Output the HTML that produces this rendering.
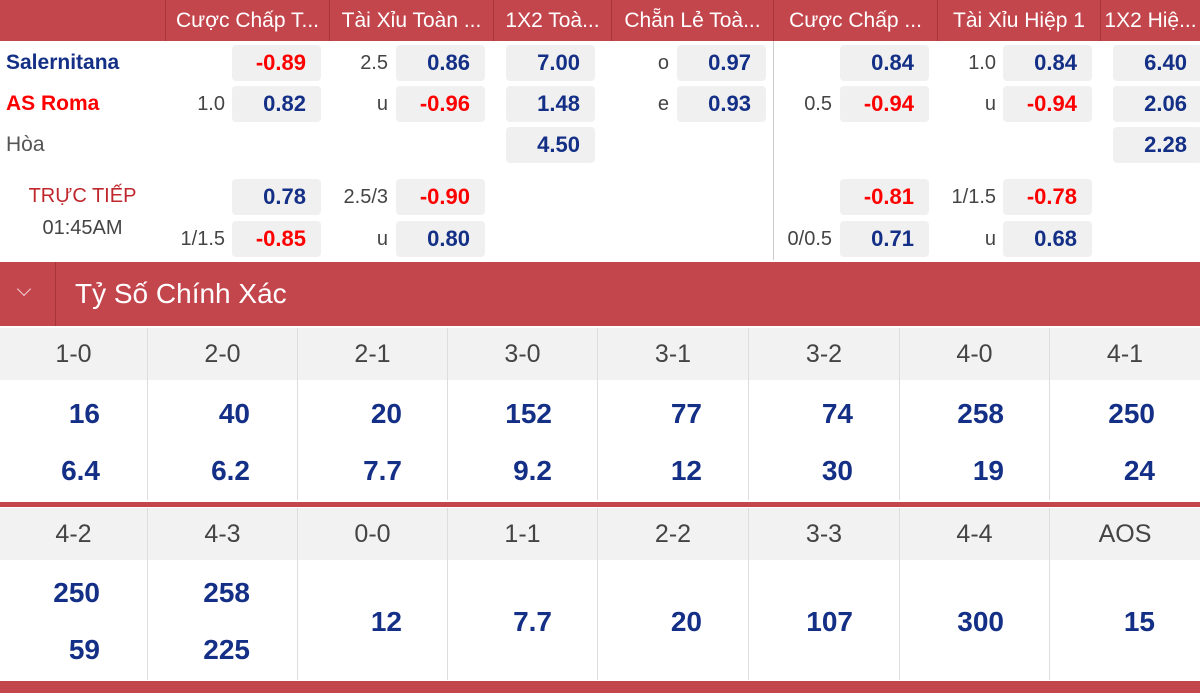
<!DOCTYPE html>
<html><head><meta charset="utf-8"><style>
*{margin:0;padding:0;box-sizing:border-box}
body{width:1200px;height:693px;overflow:hidden;background:#fff;font-family:"Liberation Sans","DejaVu Sans",sans-serif;position:relative}
.a{position:absolute}
.hd{position:absolute;top:0;left:0;width:1200px;height:41px;background:#c4464d}
.hc{position:absolute;top:0;height:41px;color:#fff;font-size:21px;line-height:41px;text-align:center;border-left:1px solid #a8343b;white-space:nowrap;overflow:hidden}
.b{position:absolute;width:89px;height:36px;background:#f0f0f0;border-radius:4px;font-weight:bold;font-size:22px;line-height:36px;text-align:right;padding-right:15px;color:#142f86}
.r{color:#f00}
.l{position:absolute;font-size:20px;color:#444;line-height:36px;text-align:right}
.team{position:absolute;left:6px;font-size:21px;font-weight:bold;line-height:36px}
.gh{position:absolute;height:52px;background:#f2f2f2;color:#444;font-size:25px;line-height:52px;text-align:center;border-right:1px solid #ddd}
.gv{position:absolute;font-weight:bold;font-size:28px;color:#142f86;text-align:right;width:104px;line-height:30px}
.vs{position:absolute;width:1px;background:#ddd}
</style></head><body>
<div class="hd"></div>
<div class="hc" style="left:165px;width:164px">Cược Chấp T...</div>
<div class="hc" style="left:329px;width:164px">Tài Xỉu Toàn ...</div>
<div class="hc" style="left:493px;width:118px">1X2 Toà...</div>
<div class="hc" style="left:611px;width:162px">Chẵn Lẻ Toà...</div>
<div class="hc" style="left:773px;width:164px">Cược Chấp ...</div>
<div class="hc" style="left:937px;width:163px">Tài Xỉu Hiệp 1</div>
<div class="hc" style="left:1100px;width:100px">1X2 Hiệ...</div>

<div class="team" style="top:45px;color:#142f86">Salernitana</div>
<div class="team" style="top:86px;color:#f00">AS Roma</div>
<div class="team" style="top:127px;font-weight:normal;color:#555">Hòa</div>
<div class="a" style="left:0;width:165px;top:185px;text-align:center;font-size:20px;color:#c0272d">TRỰC TIẾP</div>
<div class="a" style="left:0;width:165px;top:217px;text-align:center;font-size:20px;color:#444">01:45AM</div>

<div class="vs" style="left:773px;top:41px;height:219px;background:#ccc"></div>

<div class="b r" style="left:232px;top:45px">-0.89</div>
<div class="l" style="left:170px;width:55px;top:86px">1.0</div>
<div class="b" style="left:232px;top:86px">0.82</div>
<div class="b" style="left:232px;top:179px">0.78</div>
<div class="l" style="left:160px;width:65px;top:221px">1/1.5</div>
<div class="b r" style="left:232px;top:221px">-0.85</div>
<div class="l" style="left:330px;width:58px;top:45px">2.5</div>
<div class="b" style="left:396px;top:45px">0.86</div>
<div class="l" style="left:330px;width:58px;top:86px">u</div>
<div class="b r" style="left:396px;top:86px">-0.96</div>
<div class="l" style="left:330px;width:58px;top:179px">2.5/3</div>
<div class="b r" style="left:396px;top:179px">-0.90</div>
<div class="l" style="left:330px;width:58px;top:221px">u</div>
<div class="b" style="left:396px;top:221px">0.80</div>
<div class="b" style="left:506px;top:45px">7.00</div>
<div class="b" style="left:506px;top:86px">1.48</div>
<div class="b" style="left:506px;top:127px">4.50</div>
<div class="l" style="left:612px;width:57px;top:45px">o</div>
<div class="b" style="left:677px;top:45px">0.97</div>
<div class="l" style="left:612px;width:57px;top:86px">e</div>
<div class="b" style="left:677px;top:86px">0.93</div>
<div class="b" style="left:840px;top:45px">0.84</div>
<div class="l" style="left:775px;width:57px;top:86px">0.5</div>
<div class="b r" style="left:840px;top:86px">-0.94</div>
<div class="b r" style="left:840px;top:179px">-0.81</div>
<div class="l" style="left:775px;width:57px;top:221px">0/0.5</div>
<div class="b" style="left:840px;top:221px">0.71</div>
<div class="l" style="left:940px;width:56px;top:45px">1.0</div>
<div class="b" style="left:1003px;top:45px">0.84</div>
<div class="l" style="left:940px;width:56px;top:86px">u</div>
<div class="b r" style="left:1003px;top:86px">-0.94</div>
<div class="l" style="left:940px;width:56px;top:179px">1/1.5</div>
<div class="b r" style="left:1003px;top:179px">-0.78</div>
<div class="l" style="left:940px;width:56px;top:221px">u</div>
<div class="b" style="left:1003px;top:221px">0.68</div>
<div class="b" style="left:1113px;top:45px">6.40</div>
<div class="b" style="left:1113px;top:86px">2.06</div>
<div class="b" style="left:1113px;top:127px">2.28</div>

<div class="a" style="left:0;top:262px;width:1200px;height:64px;background:#c4464d"></div>
<div class="a" style="left:55px;top:262px;width:1px;height:64px;background:#a8343b"></div>
<div class="a" style="left:19px;top:284px;width:10px;height:10px;border-right:1.5px solid #f3d0d2;border-bottom:1.5px solid #f3d0d2;transform:rotate(45deg)"></div>
<div class="a" style="left:75px;top:262px;line-height:64px;color:#fff;font-size:28px">Tỷ Số Chính Xác</div>

<div class="gh" style="left:0;top:328px;width:148px">1-0</div>
<div class="gh" style="left:148px;top:328px;width:150px">2-0</div>
<div class="gh" style="left:298px;top:328px;width:150px">2-1</div>
<div class="gh" style="left:448px;top:328px;width:150px">3-0</div>
<div class="gh" style="left:598px;top:328px;width:151px">3-1</div>
<div class="gh" style="left:749px;top:328px;width:151px">3-2</div>
<div class="gh" style="left:900px;top:328px;width:150px">4-0</div>
<div class="gh" style="left:1050px;top:328px;width:150px;border-right:none">4-1</div>
<div class="vs" style="left:147px;top:380px;height:120px"></div>
<div class="vs" style="left:297px;top:380px;height:120px"></div>
<div class="vs" style="left:447px;top:380px;height:120px"></div>
<div class="vs" style="left:597px;top:380px;height:120px"></div>
<div class="vs" style="left:748px;top:380px;height:120px"></div>
<div class="vs" style="left:899px;top:380px;height:120px"></div>
<div class="vs" style="left:1049px;top:380px;height:120px"></div>

<div class="gv" style="left:-4px;top:399px">16</div><div class="gv" style="left:-4px;top:456px">6.4</div>
<div class="gv" style="left:146px;top:399px">40</div><div class="gv" style="left:146px;top:456px">6.2</div>
<div class="gv" style="left:298px;top:399px">20</div><div class="gv" style="left:298px;top:456px">7.7</div>
<div class="gv" style="left:448px;top:399px">152</div><div class="gv" style="left:448px;top:456px">9.2</div>
<div class="gv" style="left:598px;top:399px">77</div><div class="gv" style="left:598px;top:456px">12</div>
<div class="gv" style="left:749px;top:399px">74</div><div class="gv" style="left:749px;top:456px">30</div>
<div class="gv" style="left:900px;top:399px">258</div><div class="gv" style="left:900px;top:456px">19</div>
<div class="gv" style="left:1051px;top:399px">250</div><div class="gv" style="left:1051px;top:456px">24</div>

<div class="a" style="left:0;top:502px;width:1200px;height:5px;background:#c4464d"></div>

<div class="gh" style="left:0;top:508px;width:148px">4-2</div>
<div class="gh" style="left:148px;top:508px;width:150px">4-3</div>
<div class="gh" style="left:298px;top:508px;width:150px">0-0</div>
<div class="gh" style="left:448px;top:508px;width:150px">1-1</div>
<div class="gh" style="left:598px;top:508px;width:151px">2-2</div>
<div class="gh" style="left:749px;top:508px;width:151px">3-3</div>
<div class="gh" style="left:900px;top:508px;width:150px">4-4</div>
<div class="gh" style="left:1050px;top:508px;width:150px;border-right:none">AOS</div>
<div class="vs" style="left:147px;top:560px;height:120px"></div>
<div class="vs" style="left:297px;top:560px;height:120px"></div>
<div class="vs" style="left:447px;top:560px;height:120px"></div>
<div class="vs" style="left:597px;top:560px;height:120px"></div>
<div class="vs" style="left:748px;top:560px;height:120px"></div>
<div class="vs" style="left:899px;top:560px;height:120px"></div>
<div class="vs" style="left:1049px;top:560px;height:120px"></div>

<div class="gv" style="left:-4px;top:578px">250</div><div class="gv" style="left:-4px;top:635px">59</div>
<div class="gv" style="left:146px;top:578px">258</div><div class="gv" style="left:146px;top:635px">225</div>
<div class="gv" style="left:298px;top:607px">12</div>
<div class="gv" style="left:448px;top:607px">7.7</div>
<div class="gv" style="left:598px;top:607px">20</div>
<div class="gv" style="left:749px;top:607px">107</div>
<div class="gv" style="left:900px;top:607px">300</div>
<div class="gv" style="left:1051px;top:607px">15</div>

<div class="a" style="left:0;top:681px;width:1200px;height:12px;background:#c4464d"></div>
</body></html>
